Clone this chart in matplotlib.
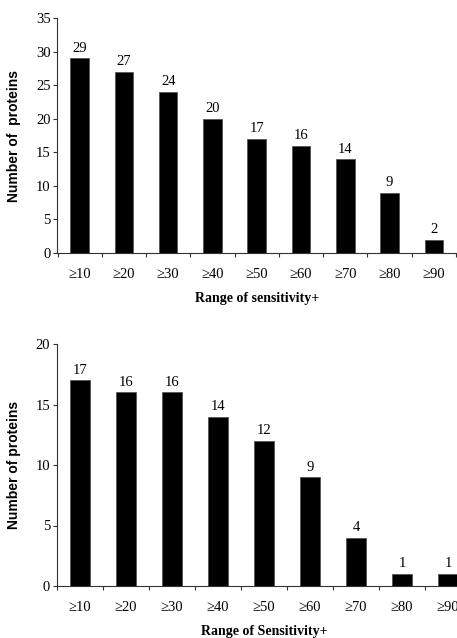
import matplotlib
matplotlib.use("Agg")
import matplotlib.pyplot as plt
import numpy as np

categories = ["\u226510", "\u226520", "\u226530", "\u226540", "\u226550",
              "\u226560", "\u226570", "\u226580", "\u226590"]
top_counts = [29, 27, 24, 20, 17, 16, 14, 9, 2]
bottom_counts = [17, 16, 16, 14, 12, 9, 4, 1, 1]

serif = ["Liberation Serif", "DejaVu Serif"]
sans = ["Liberation Sans", "DejaVu Sans"]

W, H = 457, 638
fig = plt.figure(figsize=(W / 100, H / 100), dpi=100)


def px_axes(left, top, right, bottom):
    return fig.add_axes([left / W, 1 - bottom / H, (right - left) / W, (bottom - top) / H])


def draw(ax, counts, ymax, xlabel, ylabel):
    x = np.arange(len(counts))
    ax.bar(x, counts, width=0.42, color="black", edgecolor="#555555", linewidth=0.6)
    for xi, v in zip(x, counts):
        ax.annotate(str(v), (xi, v), xytext=(0, 2.5), textcoords="offset points",
                    ha="center", va="bottom", fontsize=10.5, family=serif)
    ax.set_xlim(-0.5, len(counts) - 0.5)
    ax.set_ylim(0, ymax)
    yt = np.arange(0, ymax + 1, 5)
    ax.set_yticks(yt)
    ax.set_yticklabels([str(int(t)) for t in yt], family=serif, fontsize=10.5)
    ax.set_xticks(np.arange(len(counts) + 1) - 0.5)
    ax.set_xticklabels([])
    ax.set_xticks(x, minor=True)
    ax.set_xticklabels(categories, minor=True, family=serif, fontsize=10.5)
    ax.tick_params(axis="x", which="major", direction="out", length=3, width=0.8, color="#333333")
    ax.tick_params(axis="x", which="minor", length=0, pad=10.5)
    ax.tick_params(axis="y", direction="out", length=3, width=0.8, color="#333333", pad=2)
    for s in ["top", "right"]:
        ax.spines[s].set_visible(False)
    for s in ["left", "bottom"]:
        ax.spines[s].set_color("#333333")
        ax.spines[s].set_linewidth(0.8)
    ax.set_xlabel(xlabel, family=serif, fontweight="bold", fontsize=10, labelpad=8.5)
    ax.set_ylabel(ylabel, family=sans, fontweight="bold", fontsize=10)


ax1 = px_axes(57.5, 18, 456, 253)
draw(ax1, top_counts, 35, "Range of sensitivity+", "Number of  proteins")
ax1.yaxis.set_label_coords((21 - 57.5) / 398.5, 0.5)

ax2 = px_axes(57, 344, 471, 586)
draw(ax2, bottom_counts, 20, "Range of Sensitivity+", "Number of proteins")
ax2.yaxis.set_label_coords((21 - 57) / 414, 0.5)

fig.savefig("out.png", dpi=100)
